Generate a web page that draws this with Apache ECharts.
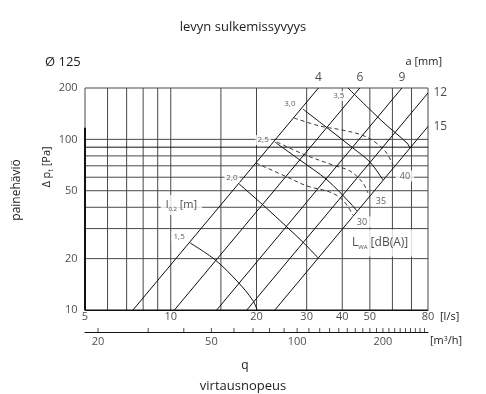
<!DOCTYPE html>
<html><head><meta charset="utf-8">
<script src="https://cdn.jsdelivr.net/npm/echarts@6/dist/echarts.min.js"></script>
<style>html,body{margin:0;padding:0;background:#fff}#c{width:486px;height:394px}</style>
</head><body><div id="c"></div>
<script>
const FONT = '"Open Sans", "Noto Sans", sans-serif';

// ---- axes / ticks ----
const xTickLabels = [5, 10, 20, 30, 40, 50, 80];            // l/s
const yTickLabels = [10, 20, 50, 100, 200];                 // Pa
const xGridValues = [5, 6, 7, 8, 9, 10, 15, 20, 30, 40, 50, 60, 70, 80];
const yGridValues = [10, 20, 30, 40, 50, 60, 70, 80, 90, 100, 200];
const m3hTickValues = [20, 30, 40, 50, 60, 70, 80, 90, 100, 110, 120, 130, 140, 150, 160, 170, 180, 190, 200, 210, 220, 230, 240, 250, 260, 270, 280];
const m3hTickLabels = [20, 50, 100, 200];

// ---- damper opening lines a [mm] (q l/s, dp Pa) ----
const aLabels = ['4', '6', '9', '12', '15'];
const aLine4  = [[7.37, 10], [33.0, 200]];
const aLine6  = [[10.3, 10], [46.1, 200]];
const aLine9  = [[14.5, 10], [64.8, 200]];
const aLine12 = [[18.5, 10], [80, 187]];
const aLine15 = [[23.2, 10], [80, 119]];

// ---- throw l0,2 [m] curves ----
const throwLabels = ['1,5', '2,0', '2,5', '3,0', '3,5'];
const throw15 = [[11.7, 24.7], [14.3, 19.7], [17.2, 14.6], [19.4, 11.4], [20.1, 10]];
const throw20 = [[17.4, 54.7], [21.1, 41.2], [25.6, 30.6], [29.1, 25.0], [32.9, 20.2]];
const throw25 = [[23.2, 96.5], [28.4, 75.7], [35.4, 57.8], [42.6, 42.4], [45.1, 38.0]];
const throw30 = [[29.1, 150.6], [36.2, 113.5], [43.6, 89.0], [50.0, 73.7], [55.6, 57.8]];
const throw35 = [[41.9, 200], [55.6, 126.4], [67.5, 95.2], [69.1, 89.0]];
const throwLabelPos = [[10.7, 26.8], [16.4, 59.4], [21.1, 99.1], [26.2, 161], [38.9, 179.5]];

// ---- sound power L_WA [dB(A)] curves (dashed) ----
const soundLabels = ['30', '35', '40'];
const sound30 = [[19.9, 72.7], [25.6, 60.2], [30.1, 53.3], [36.2, 49.1], [40.2, 44.1], [43.6, 36.0]];
const sound35 = [[23.6, 96.5], [29.1, 82.1], [37.1, 70.7], [42.6, 65.2], [47.3, 55.5], [49.2, 48.5]];
const sound40 = [[27.1, 133.4], [33.4, 119.7], [39.9, 113.5], [46.9, 106], [52.1, 96.5], [56.9, 84.3], [60.3, 70.7]];
const soundLabelPos = [[46.9, 32.8], [54.7, 43.5], [66.4, 61]];

const GRID_COLOR = '#484848';
const LINE_COLOR = '#0d0d0d';
const TEXT_COLOR = '#1c1c1c';

const chart = echarts.init(document.getElementById('c'));
const series = [];
function lineSeries(data, style, extra) {
  return Object.assign({
    type: 'line', xAxisIndex: 0, yAxisIndex: 0, data: data, symbol: 'none',
    silent: true, animation: false, lineStyle: style, z: 2
  }, extra || {});
}
xGridValues.forEach(v => series.push(lineSeries([[v, 10], [v, 200]], {color: GRID_COLOR, width: 1}, {z: 1, clip: false})));
yGridValues.forEach(v => series.push(lineSeries([[5, v], [80, v]], {color: (v === 90 || v === 10) ? '#111' : GRID_COLOR, width: 1}, {z: 1, clip: false})));
// thick left axis portion
series.push(lineSeries([[5, 117], [5, 10]], {color: '#111', width: 2}, {z: 1, clip: false}));

[aLine4, aLine6, aLine9, aLine12, aLine15].forEach(d => series.push(lineSeries(d, {color: LINE_COLOR, width: 1})));
[throw15, throw20, throw25, throw30, throw35].forEach(d => series.push(lineSeries(d, {color: LINE_COLOR, width: 1}, {smooth: 0.35})));
[sound30, sound35, sound40].forEach(d => series.push(lineSeries(d, {color: '#222', width: 0.9, type: [4, 3]}, {smooth: 0.35})));

function textSeries(points, labelOpts, extra) {
  return Object.assign({
    type: 'scatter', xAxisIndex: 0, yAxisIndex: 0, silent: true, animation: false,
    symbolSize: 1, itemStyle: {color: 'transparent'}, z: 6, clip: false,
    data: points,
    label: Object.assign({show: true, fontFamily: FONT, color: TEXT_COLOR}, labelOpts)
  }, extra || {});
}
// x tick labels
series.push(textSeries(xTickLabels.map(v => ({value: [v, 10], name: String(v)})),
  {position: 'bottom', distance: 1, fontSize: 11, formatter: p => p.name}));
// y tick labels
series.push(textSeries(yTickLabels.map(v => ({value: [5, v], name: String(v)})),
  {position: 'left', distance: 7, fontSize: 11, formatter: p => p.name}));
// a labels
const aEnds = [aLine4, aLine6, aLine9, aLine12, aLine15].map(d => d[d.length - 1]);
series.push(textSeries(aEnds.slice(0, 3).map((p, i) => ({value: p, name: aLabels[i]})),
  {position: 'top', distance: 4, fontSize: 12, formatter: p => p.name}));
series.push(textSeries(aEnds.slice(3).map((p, i) => ({value: p, name: aLabels[i + 3]})),
  {position: 'right', distance: 5, fontSize: 12, formatter: p => p.name}));
// throw labels
series.push(textSeries(throwLabelPos.map((p, i) => ({value: p, name: throwLabels[i]})),
  {position: 'inside', fontSize: 8, color: '#333', backgroundColor: '#fff', padding: [1, 2], formatter: p => p.name}));
// sound labels
series.push(textSeries(soundLabelPos.map((p, i) => ({value: p, name: soundLabels[i]})),
  {position: 'inside', fontSize: 9, color: '#333', backgroundColor: '#fff', padding: [1, 4], formatter: p => p.name}));
// legend-like labels
series.push(textSeries([{value: [10.9, 41.2]}],
  {position: 'inside', backgroundColor: '#fff', padding: [3, 5],
   formatter: '{m|l}{s|0,2}{m| [m]}',
   rich: {m: {fontSize: 11, fontFamily: FONT, color: TEXT_COLOR, lineHeight: 14},
          s: {fontSize: 6, fontFamily: FONT, color: TEXT_COLOR, verticalAlign: 'bottom', lineHeight: 14}}}));
series.push(textSeries([{value: [54.3, 24.7]}],
  {position: 'inside', backgroundColor: '#fff', padding: [6, 5],
   formatter: '{m|L}{s|WA}{m| [dB(A)]}',
   rich: {m: {fontSize: 12, fontFamily: FONT, color: TEXT_COLOR, lineHeight: 15},
          s: {fontSize: 6, fontFamily: FONT, color: TEXT_COLOR, verticalAlign: 'bottom', lineHeight: 15}}}));

// secondary axis ticks and labels (m3/h)
series.push({type: 'scatter', xAxisIndex: 1, yAxisIndex: 1, silent: true, animation: false,
  symbol: 'rect', symbolSize: [1, 4], itemStyle: {color: '#222'}, clip: false,
  data: m3hTickValues.map(v => [v, 0.5])});
series.push({type: 'scatter', xAxisIndex: 1, yAxisIndex: 1, silent: true, animation: false,
  symbolSize: 1, itemStyle: {color: 'transparent'}, clip: false,
  data: m3hTickLabels.map(v => ({value: [v, 0], name: String(v)})),
  label: {show: true, position: 'bottom', distance: 4, fontSize: 11, fontFamily: FONT, color: TEXT_COLOR, formatter: p => p.name}});

chart.setOption({
  animation: false,
  backgroundColor: '#fff',
  grid: [
    {left: 85, right: 58, top: 88, bottom: 84},
    {left: 85, right: 58, top: 328, height: 4}
  ],
  xAxis: [
    {type: 'log', logBase: 10, min: 5, max: 80, gridIndex: 0,
     axisLine: {show: true, lineStyle: {color: '#111', width: 1}}, axisTick: {show: false},
     axisLabel: {show: false}, splitLine: {show: false}},
    {type: 'log', logBase: 10, min: 18, max: 288, gridIndex: 1,
     axisLine: {show: true, onZero: false, lineStyle: {color: '#111', width: 1}}, axisTick: {show: false},
     axisLabel: {show: false}, splitLine: {show: false}}
  ],
  yAxis: [
    {type: 'log', logBase: 10, min: 10, max: 200, gridIndex: 0,
     axisLine: {show: false}, axisTick: {show: false}, axisLabel: {show: false}, splitLine: {show: false}},
    {type: 'value', min: 0, max: 1, gridIndex: 1, show: false}
  ],
  graphic: [
    {type: 'text', x: 243, y: 27, style: {text: 'levyn sulkemissyvyys', font: '13px ' + FONT, fill: TEXT_COLOR, align: 'center', verticalAlign: 'middle'}},
    {type: 'text', x: 45, y: 62, style: {text: 'Ø 125', font: '13px ' + FONT, fill: TEXT_COLOR, align: 'left', verticalAlign: 'middle'}},
    {type: 'text', x: 442, y: 62, style: {text: 'a [mm]', font: '11px ' + FONT, fill: TEXT_COLOR, align: 'right', verticalAlign: 'middle'}},
    {type: 'text', x: 440, y: 317, style: {text: '[l/s]', font: '11px ' + FONT, fill: TEXT_COLOR, align: 'left', verticalAlign: 'middle'}},
    {type: 'text', x: 430, y: 341, style: {text: '[m{s|3}/h]', font: '11px ' + FONT, fill: TEXT_COLOR, align: 'left', verticalAlign: 'middle',
      rich: {s: {fontSize: 7, fontFamily: FONT, fill: TEXT_COLOR, verticalAlign: 'top'}}}},
    {type: 'text', x: 245, y: 366, style: {text: 'q', font: '12px ' + FONT, fill: TEXT_COLOR, align: 'center', verticalAlign: 'middle'}},
    {type: 'text', x: 243, y: 386, style: {text: 'virtausnopeus', font: '13px ' + FONT, fill: TEXT_COLOR, align: 'center', verticalAlign: 'middle'}},
    {type: 'text', x: 47, y: 167, rotation: Math.PI / 2,
     style: {text: '{m|Δ p}{s|t}{m| [Pa]}', align: 'center', verticalAlign: 'middle',
       rich: {m: {fontSize: 11, fontFamily: FONT, fill: TEXT_COLOR, lineHeight: 14},
              s: {fontSize: 7, fontFamily: FONT, fill: TEXT_COLOR, verticalAlign: 'bottom', lineHeight: 14}}}},
    {type: 'text', x: 17, y: 190, rotation: Math.PI / 2,
     style: {text: 'painehäviö', font: '12px ' + FONT, fill: TEXT_COLOR, align: 'center', verticalAlign: 'middle'}}
  ],
  series: series
});
</script>
</body></html>
